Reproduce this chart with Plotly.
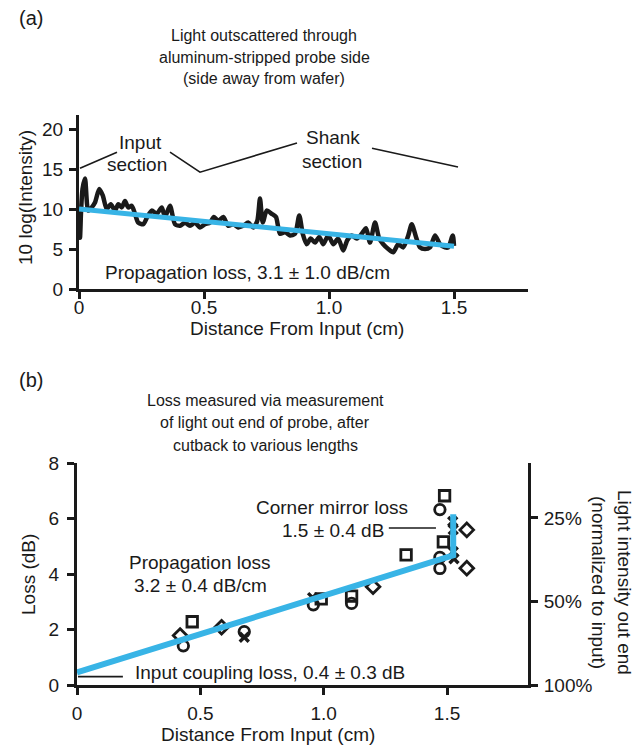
import plotly.graph_objects as go

W, H = 638, 747
FONT = "Liberation Sans, Arial, sans-serif"
BLUE = "#38b4e6"
INK = "#1a1a1a"

# ---------------- Panel (a) data ----------------
a_dist = [0.0, 0.004, 0.008, 0.014, 0.024, 0.037, 0.051, 0.064, 0.081, 0.095,
          0.111, 0.127, 0.144, 0.157, 0.171, 0.184, 0.197, 0.211, 0.224, 0.237,
          0.257, 0.273, 0.291, 0.311, 0.331, 0.344, 0.364, 0.384, 0.404, 0.424,
          0.444, 0.464, 0.484, 0.504, 0.524, 0.540, 0.557, 0.577, 0.597, 0.617,
          0.637, 0.657, 0.677, 0.697, 0.713, 0.724, 0.735, 0.751, 0.771, 0.788,
          0.804, 0.824, 0.844, 0.864, 0.881, 0.895, 0.911, 0.927, 0.944, 0.961,
          0.977, 0.997, 1.017, 1.037, 1.057, 1.073, 1.091, 1.111, 1.131, 1.148,
          1.164, 1.184, 1.201, 1.217, 1.237, 1.257, 1.277, 1.297, 1.317, 1.331,
          1.348, 1.364, 1.384, 1.404, 1.424, 1.444, 1.464, 1.477, 1.495, 1.5]
a_intensity = [10.0, 6.4, 9.5, 12.5, 13.8, 9.8, 10.2, 10.8, 12.5, 11.7,
               10.0, 10.6, 9.8, 10.6, 10.2, 11.0, 10.2, 10.4, 9.4, 8.3,
               8.1, 9.0, 9.8, 9.4, 10.2, 9.0, 10.4, 8.1, 7.9, 8.3,
               7.9, 8.3, 7.7, 8.1, 8.3, 9.0, 8.5, 9.0, 7.9, 8.1,
               7.7, 7.9, 8.3, 7.7, 8.5, 11.3, 8.3, 9.8, 9.4, 9.0,
               6.9, 7.1, 6.7, 6.9, 9.2, 6.9, 5.6, 6.3, 5.8, 6.5,
               5.6, 6.7, 5.6, 6.3, 4.8, 6.1, 6.7, 6.3, 6.9, 7.6,
               5.8, 8.3, 6.3, 5.6, 5.0, 4.6, 5.6, 5.2, 6.7, 8.1,
               6.5, 5.2, 5.0, 5.2, 6.7, 5.6, 5.2, 5.2, 6.7, 5.4]
a_fit_x = [0.0, 1.5]
a_fit_y = [10.0, 5.35]
a_xticks = [0, 0.5, 1.0, 1.5]
a_xticklabels = ["0", "0.5", "1.0", "1.5"]
a_yticks = [0, 5, 10, 15, 20]

# ---------------- Panel (b) data ----------------
b_circle_x = [0.431, 0.678, 0.958, 1.113, 1.471, 1.471, 1.471]
b_circle_y = [1.41, 1.92, 2.89, 2.94, 6.32, 4.6, 4.2]
b_square_x = [0.467, 0.99, 1.113, 1.334, 1.49, 1.485]
b_square_y = [2.28, 3.1, 3.2, 4.69, 6.82, 5.16]
b_diamond_x = [0.418, 0.586, 1.2, 1.58, 1.58]
b_diamond_y = [1.78, 2.08, 3.54, 5.59, 4.21]
b_cross_x = [0.678, 0.955, 1.523, 1.525, 1.525, 1.528]
b_cross_y = [1.72, 3.15, 5.89, 5.6, 4.8, 4.55]
b_fit_x = [0.0, 1.525, 1.525]
b_fit_y = [0.45, 4.67, 6.15]
b_xticks = [0, 0.5, 1.0, 1.5]
b_xticklabels = ["0", "0.5", "1.0", "1.5"]
b_yticks = [0, 2, 4, 6, 8]
b_right_pct = [100, 50, 25]
b_right_db = [0.0, 3.0103, 6.0206]
b_right_labels = ["100%", "50%", "25%"]


def px(x):
    return x / W


def py(y):
    return 1 - y / H


fig = go.Figure()

# Panel (a)
fig.add_trace(go.Scatter(x=a_dist, y=a_intensity, mode="lines",
                         line=dict(color=INK, width=4.5, shape="spline", smoothing=0.7),
                         xaxis="x", yaxis="y", hoverinfo="skip"))
fig.add_trace(go.Scatter(x=a_fit_x, y=a_fit_y, mode="lines",
                         line=dict(color=BLUE, width=5),
                         xaxis="x", yaxis="y", hoverinfo="skip"))

# Panel (b) markers
mk = dict(color=INK, size=10.5, line=dict(color=INK, width=2.8))
fig.add_trace(go.Scatter(x=b_circle_x, y=b_circle_y, mode="markers",
                         marker=dict(symbol="circle-open", **mk), xaxis="x2", yaxis="y2"))
fig.add_trace(go.Scatter(x=b_square_x, y=b_square_y, mode="markers",
                         marker=dict(symbol="square-open", **mk), xaxis="x2", yaxis="y2"))
fig.add_trace(go.Scatter(x=b_diamond_x, y=b_diamond_y, mode="markers",
                         marker=dict(symbol="diamond-open", **mk), xaxis="x2", yaxis="y2"))
fig.add_trace(go.Scatter(x=b_cross_x, y=b_cross_y, mode="markers",
                         marker=dict(symbol="x-thin-open", color=INK, size=9,
                                     line=dict(color=INK, width=3.4)),
                         xaxis="x2", yaxis="y2"))
fig.add_trace(go.Scatter(x=b_fit_x, y=b_fit_y, mode="lines",
                         line=dict(color=BLUE, width=6),
                         xaxis="x2", yaxis="y2", hoverinfo="skip"))
# right axis carrier
fig.add_trace(go.Scatter(x=[0], y=[0], mode="markers", marker=dict(opacity=0),
                         xaxis="x2", yaxis="y3", hoverinfo="skip"))

axis_common = dict(showline=True, linewidth=3, linecolor=INK, ticks="outside",
                   ticklen=7, tickwidth=3, tickcolor=INK, showgrid=False,
                   zeroline=False, tickfont=dict(family=FONT, size=19, color=INK),
                   fixedrange=True, automargin=False)

fig.update_layout(
    template="none",
    width=W, height=H, autosize=False,
    margin=dict(l=0, r=0, t=0, b=0, pad=0),
    paper_bgcolor="white", plot_bgcolor="white",
    showlegend=False,
    font=dict(family=FONT, color=INK),
    xaxis=dict(domain=[px(79), px(528)], range=[0, 449 / 250], anchor="y",
               tickmode="array", tickvals=a_xticks, ticktext=a_xticklabels,
               ticklabelstandoff=-8, **axis_common),
    yaxis=dict(domain=[py(289), py(115)], range=[0, 21.75], anchor="x",
               tickmode="array", tickvals=a_yticks, ticklabelstandoff=2,
               **axis_common),
    xaxis2=dict(domain=[px(77), px(528)], range=[0, 451 / 246.7], anchor="y2",
                tickmode="array", tickvals=b_xticks, ticktext=b_xticklabels,
                ticklabelstandoff=2, **axis_common),
    yaxis2=dict(domain=[py(685), py(463)], range=[0, 8], anchor="x2",
                tickmode="array", tickvals=b_yticks, ticklabelstandoff=4,
                **axis_common),
    yaxis3=dict(domain=[py(685), py(463)], range=[0, 8], anchor="x2",
                overlaying="y2", side="right",
                tickmode="array", tickvals=b_right_db, ticktext=b_right_labels,
                ticklabelstandoff=2, **axis_common),
)

ann = []


def text(x, y, s, size=19, xanchor="center", angle=0):
    ann.append(dict(x=px(x), y=py(y), xref="paper", yref="paper", text=s,
                    showarrow=False, xanchor=xanchor, yanchor="middle",
                    textangle=angle,
                    font=dict(family=FONT, size=size, color=INK)))


# panel labels
text(31, 18, "(a)", size=20)
text(31, 380, "(b)", size=20)
# titles
for i, s in enumerate(["Light outscattered through",
                       "aluminum-stripped probe side",
                       "(side away from wafer)"]):
    text(264, 35 + i * 22, s, size=16)
for i, s in enumerate(["Loss measured via measurement",
                       "of light out end of probe, after",
                       "cutback to various lengths"]):
    text(265, 400 + i * 22.5, s, size=16)

# axis titles
text(297, 329, "Distance From Input (cm)")
text(268, 734, "Distance From Input (cm)")
text(26, 198, "10 log(Intensity)", angle=-90)
text(28, 575, "Loss (dB)", angle=-90)
text(625, 582, "Light intensity out end", angle=90)
text(599, 582, "(normalized to input)", angle=90)

# panel (a) annotations
text(140, 143, "Input")
text(137, 165, "section")
text(333, 138, "Shank")
text(332, 161, "section")
text(248, 272, "Propagation loss, 3.1 ± 1.0 dB/cm")

# panel (b) annotations
text(200, 562, "Propagation loss")
text(200, 585, "3.2 ± 0.4 dB/cm")
text(332, 507, "Corner mirror loss")
text(333, 530, "1.5 ± 0.4 dB")
text(270, 672, "Input coupling loss, 0.4 ± 0.3 dB")

fig.update_layout(annotations=ann)

# leader lines (data coordinates)
shapes = []


def seg(xref, yref, pts):
    path = "M " + " L ".join(f"{a},{b}" for a, b in pts)
    shapes.append(dict(type="path", path=path, xref=xref, yref=yref,
                       line=dict(color=INK, width=1.6)))


seg("x", "y", [(0.004, 15.1), (0.152, 17.1)])
seg("x", "y", [(0.364, 17.1), (0.484, 14.6), (0.872, 18.25)])
seg("x", "y", [(1.172, 17.6), (1.516, 15.25)])
seg("x2", "y2", [(1.264, 5.66), (1.455, 5.66)])
seg("x2", "y2", [(0.004, 0.3), (0.186, 0.3)])
fig.update_layout(shapes=shapes)

fig.write_html("out.html", config={"displayModeBar": False},
               post_script="document.body.style.margin='0';document.body.style.overflow='hidden';")
